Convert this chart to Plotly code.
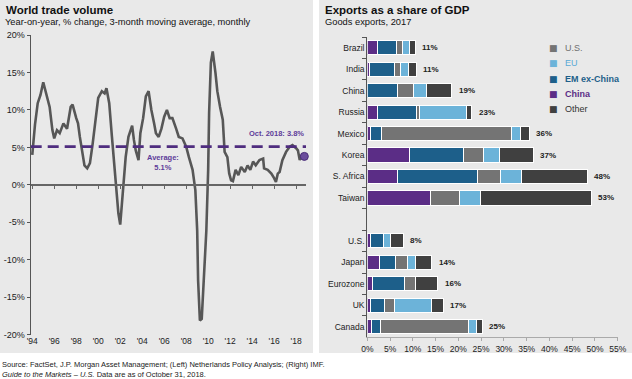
import plotly.graph_objects as go

# ---------------- Left chart: World trade volume ----------------
trade_dates = [
    "1994-01-01", "1994-03-01", "1994-04-01", "1994-07-01", "1994-10-01",
    "1995-01-01", "1995-04-01", "1995-08-01", "1995-11-01", "1996-01-01",
    "1996-04-01", "1996-07-01", "1996-11-01", "1997-03-01", "1997-07-01",
    "1997-09-01", "1998-01-01", "1998-03-01", "1998-05-01", "1998-08-01",
    "1998-10-01", "1999-01-01", "1999-04-01", "1999-07-01", "1999-10-01",
    "2000-01-01", "2000-05-01", "2000-08-01", "2000-10-01", "2001-01-01",
    "2001-04-01", "2001-07-01", "2001-09-01", "2001-11-01", "2002-01-01",
    "2002-04-01", "2002-07-01", "2002-10-01", "2003-02-01", "2003-04-01",
    "2003-06-01", "2003-09-01", "2003-11-01", "2004-02-01", "2004-05-01",
    "2004-08-01", "2004-11-01", "2005-02-01", "2005-04-01", "2005-07-01",
    "2005-10-01", "2006-01-01", "2006-04-01", "2006-07-01", "2006-10-01",
    "2007-02-01", "2007-05-01", "2007-09-01", "2008-01-01", "2008-04-01",
    "2008-08-01", "2008-11-01", "2009-01-01", "2009-02-01", "2009-04-01",
    "2009-06-01", "2009-08-01", "2009-11-01", "2010-01-01", "2010-02-01",
    "2010-04-01", "2010-06-01", "2010-09-01", "2010-11-01", "2011-02-01",
    "2011-05-01", "2011-07-01", "2011-10-01", "2011-12-01", "2012-02-01",
    "2012-04-01", "2012-07-01", "2012-10-01", "2013-01-01", "2013-05-01",
    "2013-08-01", "2013-11-01", "2014-02-01", "2014-05-01", "2014-09-01",
    "2015-01-01", "2015-02-01", "2015-06-01", "2015-10-01", "2016-01-01",
    "2016-03-01", "2016-05-01", "2016-07-01", "2016-10-01", "2017-02-01",
    "2017-06-01", "2017-09-01", "2018-01-01", "2018-03-01", "2018-05-01",
    "2018-08-01", "2018-10-01",
]
trade_yoy = [
    4.0, 7.3, 8.0, 10.9, 12.0,
    13.7, 12.2, 10.4, 7.3, 6.2,
    7.3, 6.9, 8.2, 7.5, 10.4,
    10.7, 8.9, 8.2, 6.4, 4.2,
    2.6, 2.2, 2.9, 5.5, 8.2,
    11.6, 12.5, 12.2, 12.9, 10.9,
    6.4, 2.0, -1.2, -3.8, -5.3,
    -0.7, 3.7, 6.4, 7.9, 6.0,
    4.6, 3.3, 6.9, 8.9, 11.8,
    12.5, 10.0, 8.2, 6.9, 6.4,
    7.5, 9.1, 10.0, 8.9, 8.9,
    7.5, 6.4, 6.2, 5.1, 3.7,
    2.0, -0.7, -6.1, -12.8, -18.1,
    -17.9, -12.8, -6.1, 2.0, 9.6,
    16.3, 17.8, 14.9, 12.5, 10.4,
    8.7, 4.4, 3.7, 1.5, 0.6,
    0.5, 2.0, 1.3, 2.4, 1.7,
    2.6, 2.0, 3.1, 2.6, 3.3,
    3.5, 2.2, 2.0, 1.5, 0.9,
    0.4, 1.5, 1.7, 3.3, 4.4,
    5.1, 5.3, 4.9, 4.6, 3.3,
    4.2, 3.8,
]
average_value = 5.1
average_span = ["1993-11-10", "2018-11-25"]
latest_date = "2018-10-01"
latest_value = 3.8
left_yticks = [-20, -15, -10, -5, 0, 5, 10, 15, 20]
left_yticklabels = ["-20%", "-15%", "-10%", "-5%", "0%", "5%", "10%", "15%", "20%"]

# ---------------- Right chart: Exports as a share of GDP ----------------
countries = ["Brazil", "India", "China", "Russia", "Mexico", "Korea", "S. Africa",
             "Taiwan", " ", "U.S.", "Japan", "Eurozone", "UK", "Canada"]
china = [2.3, 0.5, None, 2.3, 0.6, 9.2, 6.6, 13.9, None, 0.6, 2.7, 1.2, 0.7, 1.0]
em_ex_china = [4.2, 5.4, 6.6, 8.5, 2.5, 12.0, 17.7, None, None, 3.0, 3.4, 7.0, 3.0, 1.9]
us = [1.2, 1.4, 3.6, 0.6, 28.5, 4.3, 4.9, 6.3, None, None, 2.7, 2.4, 2.2, 19.4]
eu = [1.6, 1.8, 2.9, 10.4, 2.0, 3.6, 4.7, 4.6, None, 1.4, 1.7, None, 8.2, 1.7]
other = [1.2, 1.6, 5.5, 1.1, 2.0, 7.3, 14.4, 24.4, None, 2.9, 3.7, 4.9, 2.6, 1.3]
total_labels = ["11%", "11%", "19%", "23%", "36%", "37%", "48%", "53%", "",
                "8%", "14%", "16%", "17%", "25%"]
right_xticks = [0, 5, 10, 15, 20, 25, 30, 35, 40, 45, 50, 55]
right_xticklabels = ["0%", "5%", "10%", "15%", "20%", "25%", "30%", "35%",
                     "40%", "45%", "50%", "55%"]
legend_order = ["U.S.", "EU", "EM ex-China", "China", "Other"]

# ---------------- Styles ----------------
FONT = "Liberation Sans, Arial, sans-serif"
PANEL = "#e9e9e9"
LINE_GRAY = "#575757"
PURPLE = "#4f2d7f"
TXT = "#222222"
colors = {"China": "#5b2d86", "EM ex-China": "#1d5f8a", "U.S.": "#747474",
          "EU": "#6cb3d9", "Other": "#404040"}
legend_text_colors = {"China": "#5b2d86", "EM ex-China": "#1d5f8a", "U.S.": "#6f6f6f",
                      "EU": "#5aaad6", "Other": "#333333"}
legend_bold = {"China": True, "EM ex-China": True, "U.S.": False, "EU": False, "Other": False}

fig = go.Figure()

# left line
fig.add_trace(go.Scatter(
    x=trade_dates, y=trade_yoy, mode="lines",
    line=dict(color=LINE_GRAY, width=2.6), xaxis="x", yaxis="y",
    showlegend=False, hoverinfo="skip"))
# average dashed line (drawn on the zero-line axis, which matches x)
fig.add_trace(go.Scatter(
    x=average_span, y=[average_value, average_value], mode="lines",
    line=dict(color=PURPLE, width=2.8, dash="11px,6px"), xaxis="x2", yaxis="y",
    showlegend=False, hoverinfo="skip"))
# latest point
fig.add_trace(go.Scatter(
    x=[latest_date], y=[latest_value], mode="markers", cliponaxis=False,
    marker=dict(color="#6a4c9c", size=8, line=dict(color="#4a2d7a", width=1)),
    xaxis="x", yaxis="y", showlegend=False, hoverinfo="skip"))

# right stacked bars
series = [("China", china), ("EM ex-China", em_ex_china), ("U.S.", us),
          ("EU", eu), ("Other", other)]
for name, vals in series:
    fig.add_trace(go.Bar(
        x=vals, y=countries, orientation="h", name=name,
        marker=dict(color=colors[name], line=dict(color="white", width=1)),
        xaxis="x3", yaxis="y3", showlegend=False, hoverinfo="skip"))

annotations = []
# total labels
for i, c in enumerate(countries):
    tot = sum(v[i] for _, v in series if v[i] is not None)
    if total_labels[i]:
        annotations.append(dict(
            x=tot, y=c, xref="x3", yref="y3", text=f"<b>{total_labels[i]}</b>",
            showarrow=False, xanchor="left", xshift=5,
            font=dict(family=FONT, size=8, color=TXT)))

# manual legend (squares + coloured labels)
for i, name in enumerate(legend_order):
    ypix = 48.3 + 15.2 * i
    annotations.append(dict(
        x=553 / 632, y=1 - ypix / 379, xref="paper", yref="paper",
        xanchor="center", yanchor="middle", text="■", showarrow=False,
        font=dict(family="DejaVu Sans", size=9, color=colors[name])))
    label = f"<b>{name}</b>" if legend_bold[name] else name
    annotations.append(dict(
        x=562.5 / 632, y=1 - ypix / 379, xref="paper", yref="paper",
        xanchor="left", yanchor="middle", text=label, showarrow=False,
        font=dict(family=FONT, size=9, color=legend_text_colors[name])))

# left annotations
annotations.append(dict(
    x="2005-11-15", y=3.0, xref="x", yref="y", text="<b>Average:<br>5.1%</b>",
    showarrow=False, font=dict(family=FONT, size=7.5, color="#5e3c99"),
    align="center"))
annotations.append(dict(
    x="2018-11-15", y=6.8, xref="x", yref="y", text="<b>Oct. 2018: 3.8%</b>",
    showarrow=False, xanchor="right", font=dict(family=FONT, size=7.5, color="#5e3c99")))

# titles and source
annotations += [
    dict(x=4 / 632, y=1 - 10 / 379, xref="paper", yref="paper", xanchor="left", yanchor="middle",
         text="<b>World trade volume</b>", showarrow=False,
         font=dict(family=FONT, size=11.5, color="#111")),
    dict(x=3 / 632, y=1 - 22 / 379, xref="paper", yref="paper", xanchor="left", yanchor="middle",
         text="Year-on-year, % change, 3-month moving average, monthly", showarrow=False,
         font=dict(family=FONT, size=9.3, color="#111")),
    dict(x=323 / 632, y=1 - 10 / 379, xref="paper", yref="paper", xanchor="left", yanchor="middle",
         text="<b>Exports as a share of GDP</b>", showarrow=False,
         font=dict(family=FONT, size=11.5, color="#111")),
    dict(x=323 / 632, y=1 - 22 / 379, xref="paper", yref="paper", xanchor="left", yanchor="middle",
         text="Goods exports, 2017", showarrow=False,
         font=dict(family=FONT, size=9.3, color="#111")),
    dict(x=0, y=1 - 364.5 / 379, xref="paper", yref="paper", xanchor="left", yanchor="middle",
         text="Source: FactSet, J.P. Morgan Asset Management; (Left) Netherlands Policy Analysis; (Right) IMF.",
         showarrow=False, font=dict(family=FONT, size=7.5, color="#222")),
    dict(x=0, y=1 - 374 / 379, xref="paper", yref="paper", xanchor="left", yanchor="middle",
         text="<i>Guide to the Markets – U.S.</i> Data are as of October 31, 2018.",
         showarrow=False, font=dict(family=FONT, size=7.5, color="#222")),
]

shapes = [
    dict(type="rect", xref="paper", yref="paper", x0=0, x1=313 / 632, y0=1 - 353 / 379, y1=1,
         fillcolor=PANEL, line=dict(width=0), layer="below"),
    dict(type="rect", xref="paper", yref="paper", x0=319 / 632, x1=1, y0=1 - 353 / 379, y1=1,
         fillcolor=PANEL, line=dict(width=0), layer="below"),
]

left_dom_x = [30.7 / 632, 306 / 632]
left_dom_y = [1 - 334.7 / 379, 1 - 35 / 379]
x_range = ["1993-11-10", "2018-11-25"]

fig.update_layout(
    width=632, height=379,
    margin=dict(l=0, r=0, t=0, b=0, autoexpand=False),
    paper_bgcolor="white", plot_bgcolor="rgba(0,0,0,0)",
    font=dict(family=FONT, size=9, color=TXT),
    barmode="stack", bargap=0.34,
    showlegend=False,
    xaxis=dict(domain=left_dom_x, type="date", range=x_range, anchor="y", automargin=False,
               tick0="1994-01-01", dtick="M24", tickformat="'%y",
               showline=False, ticks="", showgrid=False, zeroline=False,
               tickfont=dict(family=FONT, size=8.5, color=TXT)),
    xaxis2=dict(type="date", range=x_range, matches="x", overlaying="x", anchor="free",
                position=(left_dom_y[0] + left_dom_y[1]) / 2, automargin=False,
                tick0="1994-01-01", dtick="M24", showticklabels=False,
                showline=True, linecolor="#666", linewidth=1.5,
                ticks="outside", ticklen=3, tickcolor="#666", showgrid=False, zeroline=False),
    yaxis=dict(domain=left_dom_y, range=[-20, 20], tickmode="array",
               tickvals=left_yticks, ticktext=left_yticklabels, automargin=False,
               showline=True, linecolor="#555", linewidth=1.2,
               ticks="outside", ticklen=3, tickcolor="#555", showgrid=False, zeroline=False,
               anchor="x", tickfont=dict(family=FONT, size=9, color=TXT)),
    xaxis3=dict(domain=[367.3 / 632, 617.7 / 632], range=[0, 55], tickmode="array",
                tickvals=right_xticks, ticktext=right_xticklabels, automargin=False,
                anchor="y3", showline=True, linecolor="#aaa", linewidth=1,
                ticks="outside", ticklen=3, tickcolor="#aaa", showgrid=False, zeroline=False,
                tickfont=dict(family=FONT, size=8.5, color=TXT)),
    yaxis3=dict(domain=[1 - 337.4 / 379, 1 - 37 / 379], type="category",
                categoryorder="array", categoryarray=countries, range=[13.5, -0.5],
                anchor="x3", automargin=False, showline=True, linecolor="#555", linewidth=1.2,
                ticks="outside", tickson="boundaries", ticklen=4, tickcolor="#555",
                showgrid=False, zeroline=False,
                tickfont=dict(family=FONT, size=8.5, color=TXT)),
    annotations=annotations,
    shapes=shapes,
)

fig.write_html("out.html", config={"displayModeBar": False},
               post_script="document.body.style.margin='0px';")
